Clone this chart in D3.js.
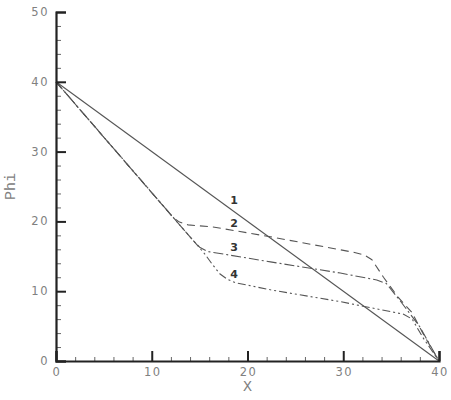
<!DOCTYPE html>
<html>
<head>
<meta charset="utf-8">
<script src="https://cdn.jsdelivr.net/npm/d3@7"></script>
<style>
	body { margin: 0; background: #fff; }
	.tickLabel { font-family: "DejaVu Sans", sans-serif; font-size: 11.5px; fill: #808080; letter-spacing: 1.5px; }
	.axisTitle { font-family: "Liberation Mono", monospace; font-size: 15px; fill: #808080; }
	.curveLabel { font-family: "DejaVu Sans", sans-serif; font-size: 11px; font-weight: bold; fill: #333; }
</style>
</head>
<body>
<div id="chart"></div>
<script>
'use strict';

// Data
const line1 = [[0, 40], [40, 0]];
const line2 = [[0, 40], [12.2, 20.6], [12.9, 19.9], [13.8, 19.5], [16.4, 19.2], [22.4, 17.8], [31, 15.6],
	[32.2, 15.2], [33, 14.5], [34.2, 12.0], [35.7, 9.2], [37.2, 6.9], [38.3, 4.0], [40, 0]];
const line3 = [[0, 40], [14.3, 17.3], [15, 16.3], [15.8, 15.7], [22.4, 14.2], [29.7, 12.6], [33.5, 11.6],
	[34.5, 11.1], [35.9, 8.7], [38, 4.9], [40, 0]];
const line4 = [[0, 40], [15.5, 15.4], [16.3, 13.9], [17.1, 12.5], [17.9, 11.7], [18.8, 11.2], [22.4, 10.2],
	[29.7, 8.5], [36.3, 6.7], [37.2, 6.0], [38.3, 3.4], [40, 0]];

const curveNames = ['1', '2', '3', '4'];
const labelPos = [[18.6, 23.1], [18.6, 19.8], [18.6, 16.3], [18.6, 12.5]];

const xTicks = [0, 10, 20, 30, 40];
const yTicks = [0, 10, 20, 30, 40, 50];

const width = 451, height = 400;
const margin = {top: 12, right: 12, bottom: 39, left: 56};

const svg = d3.select('#chart').append('svg')
	.attr('width', width)
	.attr('height', height);

const x = d3.scaleLinear().domain([0, 40]).range([margin.left, width - margin.right]);
const y = d3.scaleLinear().domain([0, 50]).range([height - margin.bottom, margin.top]);

const lineDrawer = d3.line()
	.curve(d3.curveLinear)
	.x(d => x(d[0]))
	.y(d => y(d[1]));

const styles = [
	{data: line1, dash: null},
	{data: line2, dash: '8,5'},
	{data: line3, dash: '10,3,2,3'},
	{data: line4, dash: '8,3,2,3,2,3'}
];

styles.forEach(s => {
	svg.append('path')
		.attr('d', lineDrawer(s.data))
		.attr('fill', 'none')
		.attr('stroke', '#555')
		.attr('stroke-width', 1.1)
		.attr('stroke-linejoin', 'round')
		.attr('stroke-dasharray', s.dash);
});

// x axis (ticks point up, inside)
const xMinor = d3.range(0, 40.01, 2).filter(v => v % 10 !== 0);
const xAxisMajor = d3.axisBottom(x).tickValues(xTicks).tickSize(-10).tickFormat('');
const xAxisMinor = d3.axisBottom(x).tickValues(xMinor).tickSize(-4).tickFormat('');

const gxMinor = svg.append('g')
	.attr('transform', 'translate(0,' + y(0) + ')')
	.call(xAxisMinor);
gxMinor.select('.domain').remove();
gxMinor.selectAll('line').attr('stroke', '#666').attr('stroke-width', 1);

const gx = svg.append('g')
	.attr('transform', 'translate(0,' + y(0) + ')')
	.call(xAxisMajor);
gx.select('.domain').attr('stroke', '#222').attr('stroke-width', 2.2);
gx.selectAll('line').attr('stroke', '#222').attr('stroke-width', 2);

svg.selectAll('.xlab')
	.data(xTicks)
	.enter().append('text')
	.attr('class', 'tickLabel')
	.attr('x', d => x(d) + 1)
	.attr('y', y(0) + 15)
	.attr('text-anchor', 'middle')
	.text(d => d);

// y axis (ticks point right, inside)
const yMinor = d3.range(0, 50.01, 2).filter(v => v % 10 !== 0);
const yAxisMajor = d3.axisLeft(y).tickValues(yTicks).tickSize(-10).tickFormat('');
const yAxisMinor = d3.axisLeft(y).tickValues(yMinor).tickSize(-5).tickFormat('');

const gyMinor = svg.append('g')
	.attr('transform', 'translate(' + x(0) + ',0)')
	.call(yAxisMinor);
gyMinor.select('.domain').remove();
gyMinor.selectAll('line').attr('stroke', '#666').attr('stroke-width', 1);

const gy = svg.append('g')
	.attr('transform', 'translate(' + x(0) + ',0)')
	.call(yAxisMajor);
gy.select('.domain').attr('stroke', '#222').attr('stroke-width', 2.2);
gy.selectAll('line').attr('stroke', '#222').attr('stroke-width', 2);

svg.selectAll('.ylab')
	.data(yTicks)
	.enter().append('text')
	.attr('class', 'tickLabel')
	.attr('x', x(0) - 7)
	.attr('y', d => y(d) + 4)
	.attr('text-anchor', 'end')
	.text(d => d);

// axis titles
svg.append('text')
	.attr('class', 'axisTitle')
	.attr('x', x(20))
	.attr('y', y(0) + 30)
	.attr('text-anchor', 'middle')
	.text('X');

svg.append('text')
	.attr('class', 'axisTitle')
	.attr('transform', 'translate(15,' + y(25) + ') rotate(-90)')
	.attr('text-anchor', 'middle')
	.text('Phi');

// curve labels
svg.selectAll('.curveLabel')
	.data(curveNames)
	.enter().append('text')
	.attr('class', 'curveLabel')
	.attr('x', (d, i) => x(labelPos[i][0]))
	.attr('y', (d, i) => y(labelPos[i][1]) + 4)
	.attr('text-anchor', 'middle')
	.text(d => d);
</script>
</body>
</html>
